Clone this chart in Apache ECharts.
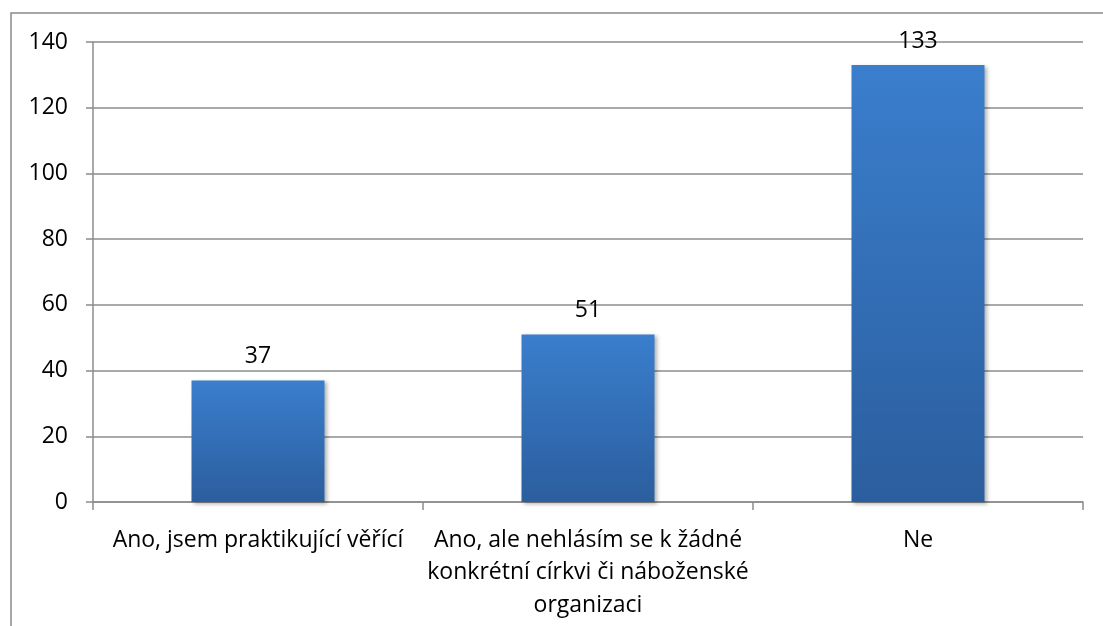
<!DOCTYPE html>
<html><head><meta charset="utf-8">
<script src="https://cdn.jsdelivr.net/npm/echarts@6/dist/echarts.min.js"></script>
<style>html,body{margin:0;padding:0;background:#fff}#c{width:1103px;height:626px}</style>
</head><body><div id="c"></div>
<script>
const categories = ['Ano, jsem praktikující věřící', 'Ano, ale nehlásím se k žádné\nkonkrétní církvi či náboženské\norganizaci', 'Ne'];
const values = [37, 51, 133];
const yTicks = [0, 20, 40, 60, 80, 100, 120, 140];

const chart = echarts.init(document.getElementById('c'), null, {renderer: 'canvas'});
const font = '"Open Sans", "Noto Sans", sans-serif';
chart.setOption({
  animation: false,
  graphic: [{type: 'rect', shape: {x: 11, y: 13, width: 1200, height: 700}, style: {fill: 'none', stroke: '#8a8a8a', lineWidth: 1.5}, z: -10}],
  grid: {left: 93, right: 20, top: 42, bottom: 124},
  xAxis: {
    type: 'category', data: categories,
    axisLine: {lineStyle: {color: '#8c8c8c', width: 1.5}},
    axisTick: {show: true, length: 8, lineStyle: {color: '#8c8c8c', width: 1.5}},
    axisLabel: {color: '#000', fontFamily: font, fontSize: 23, lineHeight: 32.5, margin: 22, interval: 0}
  },
  yAxis: {
    type: 'value', min: 0, max: 140, interval: 20,
    axisLine: {show: true, lineStyle: {color: '#8c8c8c', width: 1.5}},
    axisTick: {show: true, length: 7, lineStyle: {color: '#8c8c8c', width: 1.5}},
    splitLine: {lineStyle: {color: '#8c8c8c', width: 1.5}},
    axisLabel: {color: '#000', fontFamily: font, fontSize: 23, margin: 25,
      formatter: v => yTicks.includes(v) ? String(v) : ''}
  },
  series: [{
    type: 'bar', data: values, barWidth: 133,
    itemStyle: {
      color: new echarts.graphic.LinearGradient(0, 0, 0, 1, [{offset: 0, color: '#3a7ecd'}, {offset: 1, color: '#2b5e9e'}]),
      shadowColor: 'rgba(0,0,0,0.3)', shadowBlur: 4, shadowOffsetX: 2, shadowOffsetY: 2
    },
    label: {show: true, position: 'top', distance: 12, color: '#000', fontFamily: font, fontSize: 23}
  }]
});
</script></body></html>
